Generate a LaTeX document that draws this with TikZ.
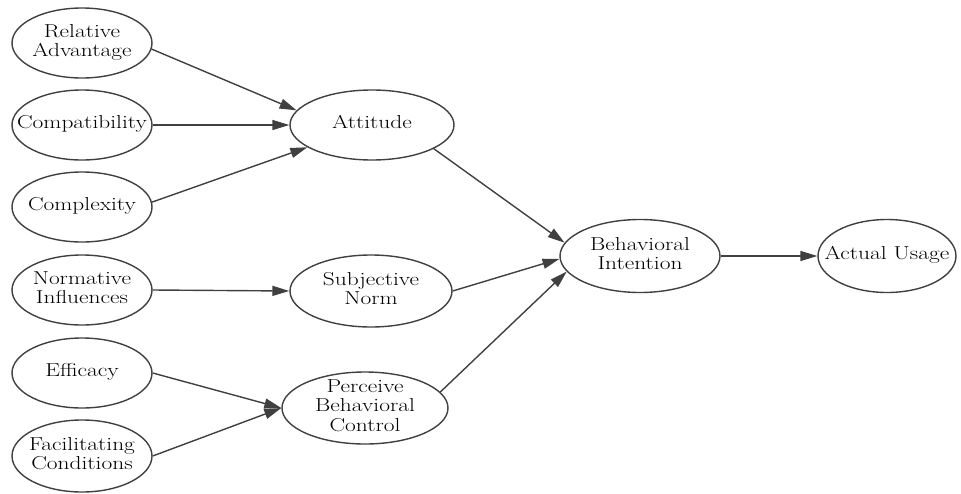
\documentclass[tikz,border=0pt]{standalone}
\usetikzlibrary{shapes.geometric,arrows.meta}
\newcommand{\wlbl}[1]{\scalebox{1.3}[1.04]{\begin{tabular}{@{}c@{}}#1\end{tabular}}}
\begin{document}
\begin{tikzpicture}[x=1pt,y=-1pt,
  oval/.style={draw=black!75,line width=1.4pt,ellipse,inner sep=0pt,minimum width=#1},
  oval/.default=140pt,
  txt/.style={align=center,inner sep=0pt,text=black,font=\fontsize{18}{19}\selectfont},
  edge/.style={draw=black!75,line width=1.4pt,-{Triangle[length=17pt,width=10pt]}}]
\useasboundingbox (0,0) rectangle (961,493);
% left column
\node[oval,minimum height=70pt] (ra) at (82,43) {};
\node[txt] (rat) at (ra) {\wlbl{Relative\\Advantage}};
\node[oval,minimum height=70pt] (comp) at (82,125) {};
\node[txt] (compt) at (comp) {\wlbl{Compatibility}};
\node[oval,minimum height=70pt] (cx) at (82,207) {};
\node[txt] (cxt) at (cx) {\wlbl{Complexity}};
\node[oval,minimum height=70pt] (ni) at (82,290) {};
\node[txt] (nit) at (ni) {\wlbl{Normative\\Influences}};
\node[oval,minimum height=70pt] (eff) at (82,373) {};
\node[txt] (efft) at (eff) {\wlbl{Efficacy}};
\node[oval,minimum height=72pt] (fc) at (82,456) {};
\node[txt] (fct) at (fc) {\wlbl{Facilitating\\Conditions}};
% middle column
\node[oval=164pt,minimum height=70pt] (att) at (372,125) {};
\node[txt] (attt) at (att) {\wlbl{Attitude}};
\node[oval=162pt,minimum height=72pt] (sn) at (371,291) {};
\node[txt] (snt) at (sn) {\wlbl{Subjective\\Norm}};
\node[oval=166pt,minimum height=72pt] (pbc) at (365,408) {};
\node[txt] (pbct) at (pbc) {\wlbl{Perceive\\Behavioral\\Control}};
% right
\node[oval=160pt,minimum height=73pt] (bi) at (640,256) {};
\node[txt] (bit) at (bi) {\wlbl{Behavioral\\Intention}};
\node[oval=138pt,minimum height=73pt] (au) at (887,256) {};
\node[txt] (aut) at (au) {\wlbl{Actual Usage}};
% edges
\draw[edge] (ra.-5) -- (att.169);
\draw[edge] (comp.east) -- (att.west);
\draw[edge] (cx.4) -- (att.199);
\draw[edge] (ni.east) -- (sn.west);
\draw[edge] (eff.east) -- (pbc.west);
\draw[edge] (fc.east) -- (pbc.west);
\draw[edge] (att.-21) -- (bi.170);
\draw[edge] (sn.east) -- (bi.182);
\draw[edge] (pbc.12) -- (bi.192);
\draw[edge] (bi.east) -- (au.west);
\end{tikzpicture}
\end{document}
